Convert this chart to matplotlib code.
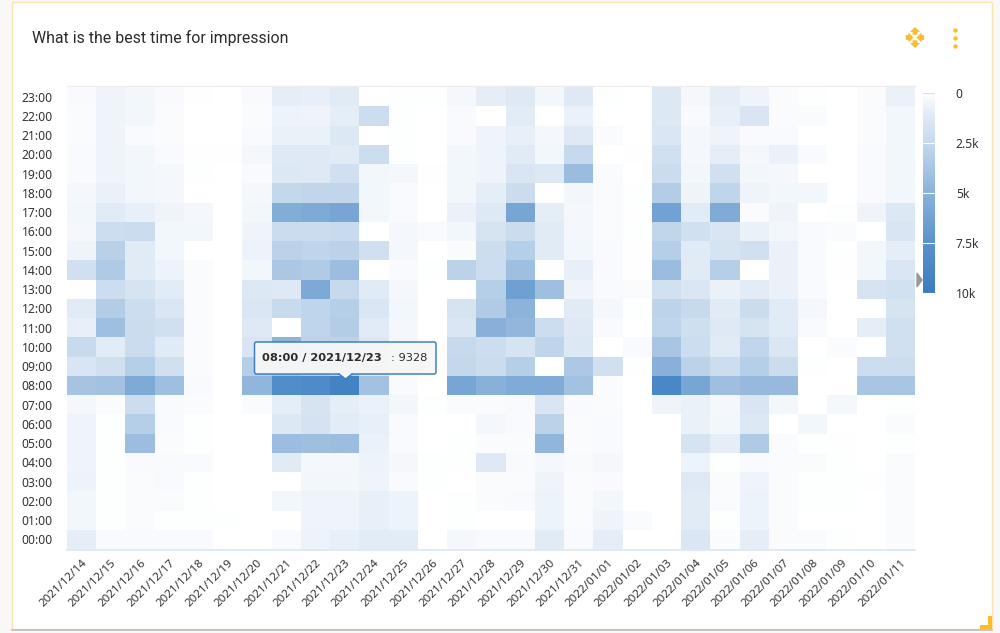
import matplotlib
matplotlib.use("Agg")
import matplotlib.pyplot as plt
import numpy as np
from matplotlib.colors import LinearSegmentedColormap
from matplotlib.patches import FancyBboxPatch, Polygon, Rectangle

plt.rcParams['font.family'] = ['Noto Sans', 'DejaVu Sans']

dates = ['2021/12/14', '2021/12/15', '2021/12/16', '2021/12/17', '2021/12/18', '2021/12/19',
         '2021/12/20', '2021/12/21', '2021/12/22', '2021/12/23', '2021/12/24', '2021/12/25',
         '2021/12/26', '2021/12/27', '2021/12/28', '2021/12/29', '2021/12/30', '2021/12/31',
         '2022/01/01', '2022/01/02', '2022/01/03', '2022/01/04', '2022/01/05', '2022/01/06',
         '2022/01/07', '2022/01/08', '2022/01/09', '2022/01/10', '2022/01/11']
hours = [f'{h:02d}:00' for h in range(24)]

# impressions per hour (thousands)
h23 = [.3, .6, .5, .3, .05, 0, .3, 1.0, .9, 1.2, 0, .1, .1, .4, 1.0, 1.3, .5, 1.3, .1, 0, 1.4, .4, 1.0, .6, .2, .1, 0, .2, .8]
h22 = [.2, .6, .5, .2, 0, 0, .2, .7, .6, 1.0, 2.2, .1, 0, .3, 0, 1.1, 0, .8, 0, 0, 1.4, .3, .9, 1.6, .2, .2, 0, .2, .5]
h21 = [.2, .6, .3, .2, 0, 0, .3, .8, .8, 1.4, 0, .1, 0, .3, .6, .9, .4, 1.3, .2, 0, 1.5, .4, .6, .3, .3, 0, 0, .2, .5]
h20 = [.3, .6, .5, .3, .05, .05, .4, 1.3, 1.3, 1.2, 2.2, .1, 0, .5, .6, 1.2, .5, 2.5, 0, .05, 2.0, .4, 1.0, .4, .8, .3, 0, .3, .5]
h19 = [.3, .6, .5, .4, .1, 0, .3, 1.4, 1.3, 2.0, .5, .4, .05, .5, .6, 1.6, 1.4, 4.4, .2, 0, 2.3, .5, 2.0, .5, .4, 0, 0, .3, .5]
h18 = [.4, .8, .5, .4, 0, 0, .4, 2.6, 2.7, 2.7, .5, .3, 0, .5, 1.0, 2.3, 0, .5, .2, .1, 3.3, .6, 2.8, .6, .5, .5, 0, .3, .5]
h17 = [.5, 1.2, .9, .6, .4, 0, .5, 5.5, 5.7, 6.0, .5, .3, 0, .8, 1.3, 6.0, 1.0, .4, .2, .05, 6.3, 1.1, 5.6, .2, .6, 0, .1, .6, 1.4]
h16 = [.4, 2.2, 2.3, .5, .5, 0, .6, 2.3, 2.3, 2.4, 0, .4, .3, .5, 1.7, 2.3, 1.2, .4, .2, .1, 2.7, 2.0, 1.6, .8, .5, .3, .2, 0, 1.6]
h15 = [.6, 3.1, 1.2, .5, 0, 0, .7, 3.0, 2.8, 3.0, 2.0, .4, 0, .2, 2.2, 3.2, 1.2, .5, .3, .05, 3.2, 1.2, 1.7, 2.0, .8, .3, .1, .5, 1.0]
h14 = [2.0, 3.5, 1.2, .7, .2, 0, .5, 3.7, 3.4, 4.3, 0, .3, .1, 3.0, 2.2, 4.2, 0, .9, .3, .05, 4.4, 1.2, 3.2, 0, .8, .3, .05, .5, 1.5]
h13 = [0, 2.2, 1.7, 1.1, .2, 0, 1.4, 1.3, 5.8, 2.5, 1.2, .4, 0, 0, 3.2, 6.5, 4.2, .6, .3, .2, 1.9, 1.5, .8, 1.1, .8, .3, 0, 1.7, 1.9]
h12 = [1.2, 3.3, 2.2, 1.5, .2, 0, 1.5, 2.4, 2.8, 3.2, 1.5, .5, 0, 1.7, 3.4, 5.0, 0, 1.2, .4, .1, 2.9, 2.5, 1.2, 2.3, 1.2, .4, 0, 0, 1.7]
h11 = [.9, 4.2, 2.3, 2.0, .2, 0, 1.3, 0, 2.8, 3.3, 1.2, .4, 0, 1.5, 5.2, 4.7, 2.2, 1.3, .3, 0, 2.8, 2.1, 1.3, 1.7, 1.2, .3, 0, 1.0, 2.0]
h10 = [2.4, 1.1, 2.3, 1.2, .2, 0, 1.6, 5.0, 3.0, 3.0, 1.5, .5, 0, 2.5, 2.2, 1.7, 2.8, 1.4, 0, .3, 3.8, 2.2, 1.2, 2.7, 1.5, 0, .2, 0, 2.0]
h09 = [1.6, 2.0, 3.2, 2.0, .2, 0, 3.2, 4.0, 3.5, 3.0, 1.3, .4, 0, 2.6, 2.3, 3.2, 0, 3.6, 2.0, .1, 5.2, 3.0, 2.2, 3.2, 2.3, .1, 0, 2.2, 2.2]
h08 = [3.9, 4.0, 5.7, 4.2, .3, 0, 4.8, 8.2, 8.4, 9.328, 4.0, .3, 0, 6.0, 5.2, 5.6, 5.6, 4.0, .2, 0, 8.8, 6.0, 4.2, 4.6, 4.6, 0, 0, 3.8, 3.8]
h07 = [.4, .2, 2.2, .3, .2, 0, .2, 1.0, 1.7, 1.0, .8, .5, .1, .2, .2, .3, 1.6, .3, .2, 0, .6, .8, .4, 1.6, .5, 0, .4, 0, .1]
h06 = [.6, .1, 3.2, .3, .1, 0, 0, 1.4, 1.8, 1.1, .9, .3, 0, 0, .4, .3, 3.0, .2, .3, 0, 0, .8, .5, 1.4, 0, .5, 0, 0, .2]
h05 = [.6, .1, 4.3, .2, .1, 0, 0, 4.3, 4.2, 4.3, .8, .3, 0, .1, .2, .2, 4.8, .2, .3, 0, 0, 1.7, 1.0, 3.5, .2, .1, .05, 0, .1]
h04 = [.6, .1, .3, .3, .3, 0, 0, 1.2, .4, .4, .7, .4, .1, .1, 1.3, .3, .4, .3, .4, 0, 0, .7, .1, .3, .2, .2, .1, 0, .2]
h03 = [.7, .1, .2, .3, .1, 0, 0, 0, .5, .5, .6, .3, .1, 0, .2, .2, .6, .2, .3, 0, 0, 1.3, .2, .6, .2, .1, .1, .05, .2]
h02 = [.5, .1, .2, .2, .1, 0, 0, .5, .6, .6, .9, .7, 0, .1, .2, .3, .7, .2, .5, 0, 0, 1.2, .2, .7, .2, .1, .1, 0, .2]
h01 = [.5, .1, .2, .1, .1, .1, 0, 0, .6, .6, .9, .7, 0, .1, 0, 0, .7, .2, .6, .2, 0, 1.2, .1, .7, .2, 0, 0, 0, .2]
h00 = [1.0, .3, .3, .3, .3, 0, 0, .3, .7, .9, 1.1, 1.1, 0, .4, .3, .3, 1.2, .3, 1.0, 0, 0, 1.5, .2, 1.0, .2, .2, .1, 0, .2]

cbar_ticks = [0, 2500, 5000, 7500, 10000]
cbar_labels = ['0', '2.5k', '5k', '7.5k', '10k']

values = np.array([h00, h01, h02, h03, h04, h05, h06, h07, h08, h09, h10, h11, h12, h13, h14, h15,
                   h16, h17, h18, h19, h20, h21, h22, h23]) * 1000

W, H = 1000, 633
cmap = LinearSegmentedColormap.from_list('impr', [(0, '#ffffff'), (.1, '#e4edf7'), (.25, '#c6d9ed'),
                                                  (.5, '#8cb3da'), (.75, '#5a93cc'), (1, '#3a7dc0')])
YELLOW = '#fdbd2a'


def px_axes(fig, x0, y0, x1, y1):
    """axes placed by pixel box, y measured from the top"""
    return fig.add_axes([x0 / W, 1 - y1 / H, (x1 - x0) / W, (y1 - y0) / H])


fig = plt.figure(figsize=(W / 100, H / 100), dpi=100, facecolor='#f8f8f6')

# card background and chrome
bg = px_axes(fig, 0, 0, W, H)
bg.set_xlim(0, W)
bg.set_ylim(H, 0)
bg.axis('off')
bg.add_patch(Rectangle((11.5, 1.5), 980, 627, facecolor='white', edgecolor='#f9e3ae', linewidth=1))
bg.plot([12, 992], [629.5, 629.5], color='#bdbdbd', linewidth=1.2)
bg.plot([67, 915], [85.5, 85.5], color='#ececec', linewidth=1)
bg.plot([67, 915], [549.5, 549.5], color='#dfeaf5', linewidth=1.5)
bg.text(32, 38, 'What is the best time for impression', fontsize=11.4, color='#2b2b2b',
        family='Roboto', va='center', ha='left')

# heatmap
ax = px_axes(fig, 67, 87, 915, 549)
ax.pcolormesh(values, cmap=cmap, vmin=0, vmax=10000, edgecolors='none')
ax.set_xticks(np.arange(len(dates)) + 0.5)
ax.set_xticklabels(dates, rotation=45, ha='right', va='top', rotation_mode='anchor', fontsize=8.4, color='#333333')
ax.set_yticks(np.arange(len(hours)) + 0.5)
ax.set_yticklabels(hours, fontsize=8.7, color='#333333', va='center_baseline')
ax.tick_params(length=0, pad=10.3, axis='y')
ax.tick_params(length=0, pad=6, axis='x')
for s in ax.spines.values():
    s.set_visible(False)

# colour scale
cax = px_axes(fig, 923, 93, 935, 293)
cax.imshow(np.linspace(0, 10000, 200).reshape(-1, 1), cmap=cmap, vmin=0, vmax=10000, aspect='auto',
           extent=[0, 1, 10000, 0])
cax.set_xticks([])
cax.set_yticks(cbar_ticks)
cax.set_yticklabels(cbar_labels, fontsize=8.7, color='#333333')
cax.yaxis.tick_right()
cax.tick_params(length=0, pad=15)
for t in cbar_ticks:
    cax.axhline(t, color='white' if t else '#dddddd', linewidth=0.8)
for s in cax.spines.values():
    s.set_visible(False)

# overlay: tooltip, handle, icons
top = px_axes(fig, 0, 0, W, H)
top.set_xlim(0, W)
top.set_ylim(H, 0)
top.axis('off')
top.patch.set_alpha(0)
top.add_patch(Polygon([[917, 273], [917, 287], [922, 280]], color='#9a9a9a'))
top.add_patch(FancyBboxPatch((254.5, 342), 181.5, 32, boxstyle='round,pad=0,rounding_size=2',
                             facecolor='#f6f6f6', edgecolor='#3a7dc0', linewidth=1.1, alpha=0.97))
top.add_patch(Polygon([[339, 373], [345.5, 379], [352, 373]], facecolor='#f6f6f6', edgecolor='none'))
top.plot([339, 345.5, 352], [374, 379, 374], color='#3a7dc0', linewidth=1)
top.text(262, 358, '08:00 / 2021/12/23', fontsize=8.2, fontweight='bold', color='#2b2b2b',
         family='DejaVu Sans', va='center', ha='left')
top.text(391, 358, ': 9328', fontsize=8.2, color='#2b2b2b', family='DejaVu Sans', va='center', ha='left')

# move icon
for dx, dy, ang in [(0, -1, 0), (0, 1, 180), (-1, 0, 90), (1, 0, -90)]:
    cx, cy = 915 + dx * 6, 37.5 + dy * 6
    a = np.deg2rad(ang)
    rot = np.array([[np.cos(a), -np.sin(a)], [np.sin(a), np.cos(a)]])
    tri = np.array([[0, -4.5], [-5, 0.5], [-2.4, 0.5], [-2.4, 3.2], [2.4, 3.2], [2.4, 0.5], [5, 0.5]]) @ rot.T
    top.add_patch(Polygon(tri + [cx, cy], color=YELLOW, linewidth=0))
top.scatter([955, 955, 955], [30, 38, 46], s=10, color=YELLOW, linewidths=0)
top.add_patch(Polygon([[980, 629], [992, 629], [992, 616], [988, 616], [988, 625], [980, 625]], color=YELLOW, linewidth=0))

fig.savefig('out.png', dpi=100, facecolor=fig.get_facecolor())
